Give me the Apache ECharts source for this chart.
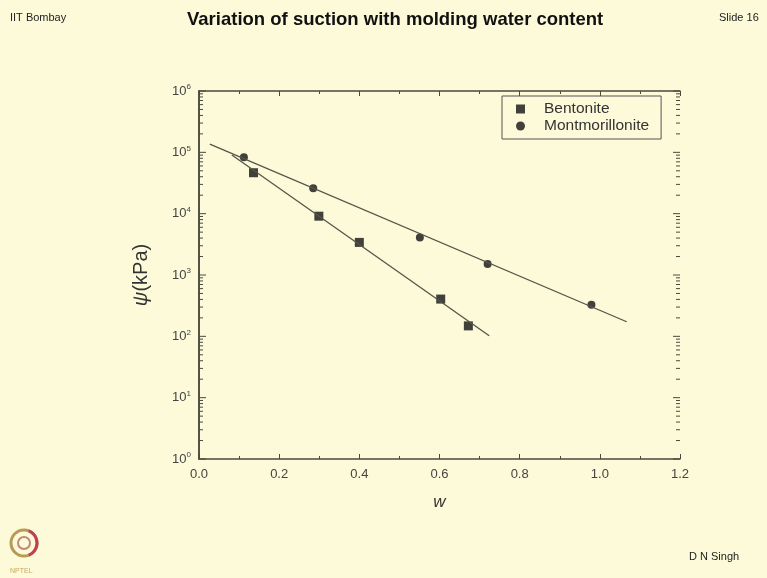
<!DOCTYPE html>
<html>
<head>
<meta charset="utf-8">
<script src="https://cdn.jsdelivr.net/npm/echarts@6/dist/echarts.min.js"></script>
<style>
  html, body { margin: 0; padding: 0; background: #fcfad9; }
  #chart { width: 767px; height: 578px; }
</style>
</head>
<body>
<div id="chart"></div>
<script>
// measured points (w, suction kPa)
var bentoniteW = [0.136, 0.299, 0.400, 0.603, 0.672];
var bentoniteS = [46500, 9100, 3400, 405, 148];
var montW = [0.112, 0.285, 0.551, 0.720, 0.979];
var montS = [83000, 25900, 4100, 1510, 327];
// fitted lines (end points)
var bentFitW = [0.082, 0.724];
var bentFitS = [90400, 102];
var montFitW = [0.027, 1.067];
var montFitS = [136000, 173];
// log axis decades
var yTicks = [1, 10, 100, 1000, 10000, 100000, 1000000];

function pairs(xs, ys) {
  var out = [];
  for (var i = 0; i < xs.length; i++) out.push([xs[i], ys[i]]);
  return out;
}

// tick positions on the log axis: decades (long) and 2..9 x 10^k (short)
var tickVals = [];
for (var k = 0; k < yTicks.length; k++) {
  tickVals.push([0, yTicks[k], 7]);
  if (k < yTicks.length - 1) {
    for (var m = 2; m <= 9; m++) tickVals.push([0, m * yTicks[k], 4]);
  }
}

var axisCol = '#4a4a3c';
var font = '"Liberation Sans", Arial, sans-serif';

var chart = echarts.init(document.getElementById('chart'));
chart.setOption({
  backgroundColor: '#fcfad9',
  animation: false,
  textStyle: { fontFamily: font },
  graphic: [
    { type: 'text', left: 10, top: 12, style: { text: 'IIT Bombay', font: '11px ' + font, fill: '#222' } },
    { type: 'text', left: 187, top: 10, style: { text: 'Variation of suction with molding water content', font: 'bold 18.5px ' + font, fill: '#111' } },
    { type: 'text', left: 719, top: 12, style: { text: 'Slide 16', font: '11px ' + font, fill: '#222' } },
    { type: 'text', left: 689, top: 551, style: { text: 'D N Singh', font: '11px ' + font, fill: '#222' } },
    { type: 'circle', shape: { cx: 24, cy: 543, r: 13 }, style: { fill: 'none', stroke: '#b89a58', lineWidth: 3 } },
    { type: 'arc', shape: { cx: 24, cy: 543, r: 13, startAngle: -1.2, endAngle: 1.2 }, style: { fill: 'none', stroke: '#c0405a', lineWidth: 3 } },
    { type: 'circle', shape: { cx: 24, cy: 543, r: 6 }, style: { fill: 'none', stroke: '#c08a78', lineWidth: 2 } },
    { type: 'text', left: 10, top: 568, style: { text: 'NPTEL', font: '7px ' + font, fill: '#c8a860' } }
  ],
  grid: { left: 199, right: 87, top: 91, bottom: 119 },
  legend: {
    left: 502, top: 96, orient: 'vertical',
    padding: [5, 12, 5, 14],
    itemGap: 1,
    itemWidth: 9, itemHeight: 9,
    borderColor: '#555', borderWidth: 1,
    textStyle: { fontSize: 15.5, color: '#333', fontFamily: font, padding: [0, 0, 0, 14] },
    data: [
      { name: 'Bentonite', icon: 'rect', itemStyle: { color: '#111' } },
      { name: 'Montmorillonite', icon: 'circle', itemStyle: { color: '#111' } }
    ]
  },
  xAxis: [
    {
      type: 'value', min: 0, max: 1.2, interval: 0.2,
      name: 'w', nameLocation: 'middle', nameGap: 35,
      nameTextStyle: { fontSize: 17, fontStyle: 'italic', color: '#333', fontFamily: font },
      axisLine: { lineStyle: { color: axisCol, width: 1.5 } },
      axisTick: { inside: true, length: 5, lineStyle: { color: axisCol } },
      minorTick: { show: true, splitNumber: 2, length: 3, lineStyle: { color: axisCol } },
      axisLabel: { fontSize: 13, color: '#444', margin: 9, fontFamily: font, formatter: function (v) { return v.toFixed(1); } },
      splitLine: { show: false }
    },
    {
      type: 'value', position: 'top', min: 0, max: 1.2, interval: 0.2,
      axisLine: { lineStyle: { color: axisCol, width: 1.5 } },
      axisTick: { inside: true, length: 5, lineStyle: { color: axisCol } },
      minorTick: { show: true, splitNumber: 2, length: 3, lineStyle: { color: axisCol } },
      axisLabel: { show: false },
      splitLine: { show: false }
    }
  ],
  yAxis: [
    {
      type: 'log', logBase: 10, min: 1, max: 1000000,
      name: '{g|ψ}(kPa)', nameLocation: 'middle', nameGap: 48, nameRotate: 90,
      nameTextStyle: {
        fontSize: 20, color: '#333', fontFamily: font,
        rich: { g: { fontSize: 20, fontStyle: 'italic', color: '#333', fontFamily: font } }
      },
      axisLine: { lineStyle: { color: axisCol, width: 1.5 } },
      axisTick: { show: false },
      axisLabel: {
        color: '#444', margin: 8, fontFamily: font,
        formatter: function (v) { return '{b|10}{s|' + Math.round(Math.log10(v)) + '}'; },
        rich: {
          b: { fontSize: 13, color: '#444', fontFamily: font },
          s: { fontSize: 8, color: '#444', fontFamily: font, padding: [0, 0, 8, 0] }
        }
      },
      splitLine: { show: false }
    },
    {
      type: 'log', logBase: 10, min: 1, max: 1000000, position: 'right',
      axisLine: { lineStyle: { color: axisCol, width: 1.5 } },
      axisTick: { show: false },
      axisLabel: { show: false },
      splitLine: { show: false }
    }
  ],
  series: [
    {
      name: 'ticks', type: 'custom', silent: true, legendHoverLink: false, clip: false,
      renderItem: function (params, api) {
        var y = api.coord([0, api.value(1)])[1];
        var len = api.value(2);
        var cs = params.coordSys;
        var st = { stroke: axisCol, lineWidth: 1 };
        return {
          type: 'group',
          children: [
            { type: 'line', shape: { x1: cs.x, y1: y, x2: cs.x + len, y2: y }, style: st },
            { type: 'line', shape: { x1: cs.x + cs.width - len, y1: y, x2: cs.x + cs.width, y2: y }, style: st }
          ]
        };
      },
      data: tickVals
    },
    {
      name: 'bentFit', type: 'line', symbol: 'none', silent: true,
      lineStyle: { color: '#555548', width: 1.3 },
      data: pairs(bentFitW, bentFitS)
    },
    {
      name: 'montFit', type: 'line', symbol: 'none', silent: true,
      lineStyle: { color: '#555548', width: 1.3 },
      data: pairs(montFitW, montFitS)
    },
    {
      name: 'Bentonite', type: 'scatter', symbol: 'rect', symbolSize: 9,
      itemStyle: { color: '#111' },
      data: pairs(bentoniteW, bentoniteS)
    },
    {
      name: 'Montmorillonite', type: 'scatter', symbol: 'circle', symbolSize: 8,
      itemStyle: { color: '#111' },
      data: pairs(montW, montS)
    }
  ]
});
</script>
</body>
</html>
